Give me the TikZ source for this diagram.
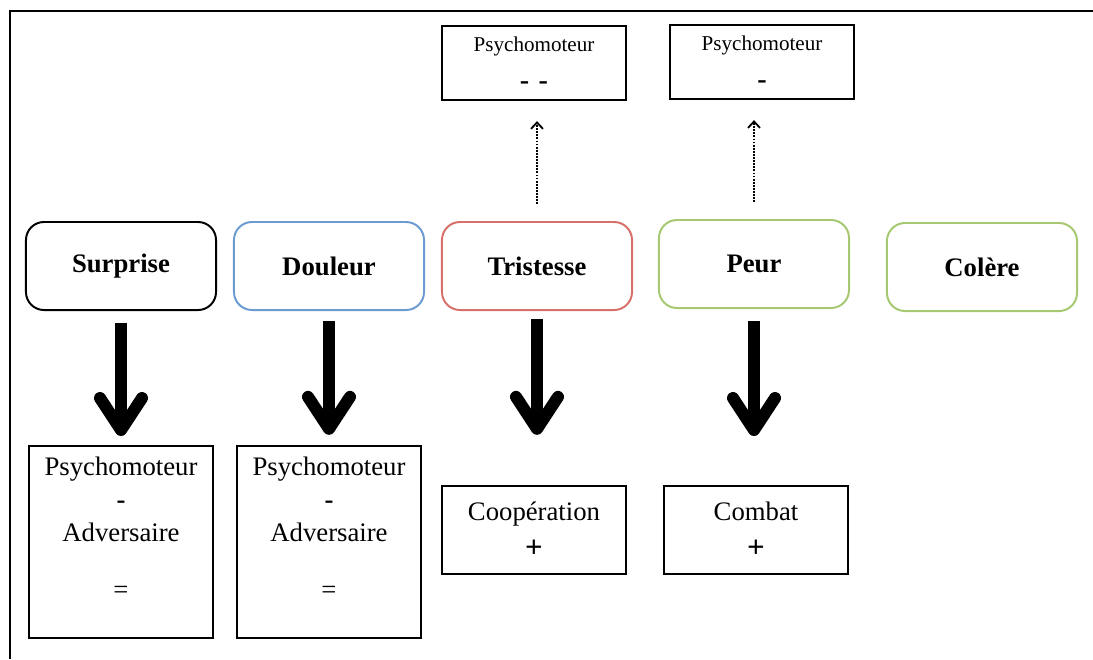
\documentclass[tikz,border=0pt]{standalone}
\usepackage{fontspec}
\setmainfont{Liberation Serif}
\usetikzlibrary{arrows.meta}
\definecolor{douleurblue}{RGB}{108,155,210}
\definecolor{tristred}{RGB}{215,112,106}
\definecolor{peurgreen}{RGB}{165,200,112}
\begin{document}
\begin{tikzpicture}[x=0.025cm,y=-0.025cm,
  emo/.style={draw,rounded corners=0.45cm,line width=1.4pt,minimum width=4.75cm,minimum height=2.2cm,font=\fontsize{19}{23}\selectfont\bfseries},
  resbox/.style={draw,line width=1.6pt,minimum width=4.6cm,align=center,font=\fontsize{19}{23.5}\selectfont},
  restext/.style={inner sep=0pt,anchor=north,align=center,font=\fontsize{19}{23.5}\selectfont},
  psybox/.style={draw,line width=1.6pt,minimum width=4.6cm,minimum height=1.85cm,align=center,font=\fontsize{15}{18}\selectfont},
  bigarrow/.style={line width=3mm,-{Straight Barb[length=8mm,width=10.5mm,round]}},
  dotarrow/.style={line width=1.3pt,dash pattern=on 1.3pt off 0.9pt,-{Straight Barb[length=1.6mm,width=3mm]}}]
\useasboundingbox (0,0) rectangle (1093,659);

\draw[line width=1.6pt] (1093,11) -- (10,11) -- (10,659);

\node[emo] (surprise) at (121,266) {Surprise};
\node[emo,draw=douleurblue] (douleur) at (329,266) {Douleur};
\node[emo,draw=tristred] (tristesse) at (537,266) {Tristesse};
\node[emo,draw=peurgreen] (peur) at (754,264) {Peur};
\node[emo,draw=peurgreen] (colere) at (982,267) {Colère};

\node[psybox] (psytri) at (534,63) {Psychomoteur\\[9pt]{\fontsize{20}{20}\selectfont\bfseries -\,\,-}};
\node[psybox] (psypeur) at (762,62) {Psychomoteur\\[9pt]{\fontsize{20}{20}\selectfont\bfseries -}};

\node[resbox,minimum height=4.8cm] (ressur) at (121,542) {};
\node[restext] (txtsur) at (121,457) {Psychomoteur\\\textbf{-}\\Adversaire\\[17pt]=};
\node[resbox,minimum height=4.8cm] (resdou) at (329,542) {};
\node[restext] (txtdou) at (329,457) {Psychomoteur\\\textbf{-}\\Adversaire\\[17pt]=};
\node[resbox,minimum height=2.2cm] (rescoop) at (534,530) {Coopération\\[3pt]{\fontsize{22}{22}\selectfont\bfseries +}};
\node[resbox,minimum height=2.2cm] (rescombat) at (756,530) {Combat\\[3pt]{\fontsize{22}{22}\selectfont\bfseries +}};

\draw[dotarrow,shorten <=0.42cm,shorten >=0.5cm] (tristesse.north) -- (tristesse.north |- psytri.south);
\draw[dotarrow,shorten <=0.42cm,shorten >=0.5cm] (peur.north) -- (peur.north |- psypeur.south);

\draw[bigarrow,shorten <=0.29cm,shorten >=0.22cm] (surprise.south) -- (ressur.north);
\draw[bigarrow,shorten <=0.25cm,shorten >=0.25cm] (douleur.south) -- (resdou.north);
\draw[bigarrow,shorten <=0.2cm,shorten >=1.25cm] (tristesse.south) -- (tristesse.south |- rescoop.north);
\draw[bigarrow,shorten <=0.3cm,shorten >=1.22cm] (peur.south) -- (peur.south |- rescombat.north);
\end{tikzpicture}
\end{document}
